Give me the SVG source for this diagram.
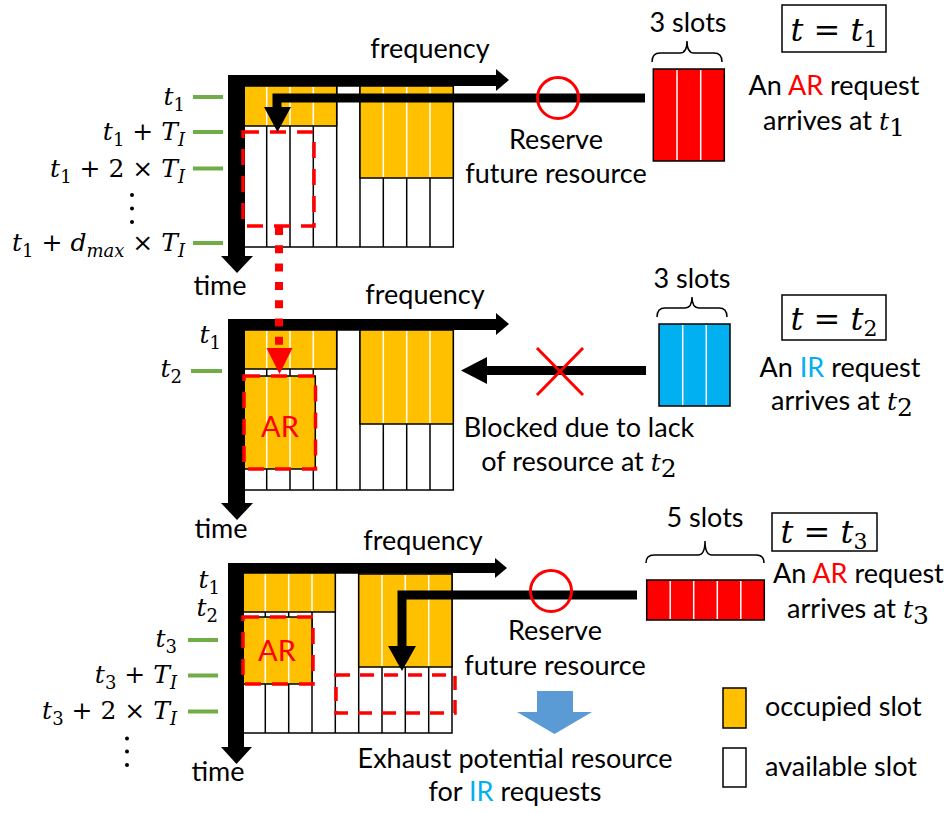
<svg xmlns="http://www.w3.org/2000/svg" width="944" height="813" viewBox="0 0 944 813">
<style>
.s{font-family:Lato,"Open Sans",sans-serif;font-size:27px;fill:#000}
.m{font-family:"DejaVu Serif",serif;font-size:25px;fill:#000}
.i{font-style:italic}
.sb{font-size:18px}
.art{font-family:Lato,"Open Sans",sans-serif;font-size:29px;fill:#FF0000}
.bg{fill:#fff;stroke:#000;stroke-width:1.5}
.or{fill:#FFC000;stroke:#000;stroke-width:1.5}
.bl{stroke:#000;stroke-width:1.5}
.wl{stroke:#fff;stroke-width:1.5}
.ax{fill:#000}
.tick{stroke:#70AD47;stroke-width:4}
.rd{fill:none;stroke:#FF0000;stroke-width:3.5;stroke-dasharray:16 11}
.rd2{fill:none;stroke:#FF0000;stroke-width:3.5;stroke-dasharray:14 10}
.req{fill:none;stroke:#000;stroke-width:9}
.red{fill:#FF0000}
.brace{fill:none;stroke:#000;stroke-width:1.5}
.box{fill:#fff;stroke:#000;stroke-width:1.5}
.tm{font-family:"DejaVu Serif",serif;font-size:32px;fill:#000}
</style>

<!-- ===== Panel 1 ===== -->
<g id="grid1">
  <rect class="bg" x="243.3" y="86" width="210" height="161"/>
  <g class="bl">
    <line x1="266.7" y1="86" x2="266.7" y2="247"/><line x1="290" y1="86" x2="290" y2="247"/>
    <line x1="313.3" y1="86" x2="313.3" y2="247"/><line x1="336.7" y1="86" x2="336.7" y2="247"/>
    <line x1="360" y1="86" x2="360" y2="247"/><line x1="383.3" y1="86" x2="383.3" y2="247"/>
    <line x1="406.7" y1="86" x2="406.7" y2="247"/><line x1="430" y1="86" x2="430" y2="247"/>
  </g>
  <rect class="or" x="243.3" y="86" width="93.4" height="40"/>
  <rect class="or" x="360" y="86" width="93.3" height="92"/>
  <g class="wl">
    <line x1="266.7" y1="87" x2="266.7" y2="125"/><line x1="290" y1="87" x2="290" y2="125"/><line x1="313.3" y1="87" x2="313.3" y2="125"/>
    <line x1="383.3" y1="87" x2="383.3" y2="177"/><line x1="406.7" y1="87" x2="406.7" y2="177"/><line x1="430" y1="87" x2="430" y2="177"/>
  </g>
</g>
<g id="axes1">
  <rect class="ax" x="228" y="75" width="17" height="182"/>
  <polygon class="ax" points="221,256 253,256 237,273"/>
  <rect class="ax" x="228" y="75" width="269" height="11"/>
  <polygon class="ax" points="496,69 496,91 509,80"/>
  <text class="s" x="430" y="58" text-anchor="middle">frequency</text>
  <text class="s" x="220" y="295" text-anchor="middle">time</text>
</g>
<g id="labels1">
  <g class="tick">
    <line x1="193" y1="97" x2="223" y2="97"/><line x1="193" y1="132" x2="223" y2="132"/>
    <line x1="193" y1="168.5" x2="223" y2="168.5"/><line x1="193" y1="243" x2="223" y2="243"/>
  </g>
  <text class="m" x="185" y="105" text-anchor="end"><tspan class="i">t</tspan><tspan class="sb" dy="6">1</tspan></text>
  <text class="m" x="185" y="140" text-anchor="end"><tspan class="i">t</tspan><tspan class="sb" dy="6">1</tspan><tspan dy="-6"> + </tspan><tspan class="i">T</tspan><tspan class="sb i" dy="6">I</tspan></text>
  <text class="m" x="185" y="177" text-anchor="end"><tspan class="i">t</tspan><tspan class="sb" dy="6">1</tspan><tspan dy="-6"> + 2 × </tspan><tspan class="i">T</tspan><tspan class="sb i" dy="6">I</tspan></text>
  <circle cx="132" cy="195" r="2"/><circle cx="132" cy="208.5" r="2"/><circle cx="132" cy="222" r="2"/>
  <text class="m" x="185" y="251" text-anchor="end"><tspan class="i">t</tspan><tspan class="sb" dy="6">1</tspan><tspan dy="-6"> + </tspan><tspan class="i">d</tspan><tspan class="sb i" dy="6">max</tspan><tspan dy="-6"> × </tspan><tspan class="i">T</tspan><tspan class="sb i" dy="6">I</tspan></text>
</g>
<g id="reserve1">
  <rect class="rd" x="243" y="132" width="71" height="94"/>
</g>
<g id="request1">
  <text class="s" x="688" y="32" text-anchor="middle">3 slots</text>
  <path class="brace" d="M652,62 Q652,53 660,53 L680,53 Q687,53 687,41 Q687,53 694,53 L714,53 Q722,53 722,62"/>
  <rect x="653.3" y="69" width="71" height="92" fill="#FF0000" stroke="#000" stroke-width="1.5"/>
  <line class="wl" x1="677" y1="70" x2="677" y2="160"/><line class="wl" x1="700.7" y1="70" x2="700.7" y2="160"/>
</g>
<g id="time1">
  <rect class="box" x="782" y="5" width="104" height="47"/>
  <text class="tm" x="834" y="41" text-anchor="middle"><tspan class="i">t</tspan> = <tspan class="i">t</tspan><tspan font-size="22" dy="6">1</tspan></text>
  <text class="s" x="834" y="95" text-anchor="middle">An <tspan fill="#FF0000">AR</tspan> request</text>
  <text class="s" x="834" y="130" text-anchor="middle">arrives at <tspan class="m i" font-size="29">t</tspan><tspan class="m" font-size="20" dy="6">1</tspan></text>
</g>
<g id="note1">
  <text class="s" x="556" y="149" text-anchor="middle">Reserve</text>
  <text class="s" x="556" y="183" text-anchor="middle">future resource</text>
</g>

<!-- ===== Panel 2 ===== -->
<g id="grid2">
  <rect class="bg" x="243.3" y="330" width="210" height="160"/>
  <g class="bl">
    <line x1="266.7" y1="330" x2="266.7" y2="490"/><line x1="290" y1="330" x2="290" y2="490"/>
    <line x1="313.3" y1="330" x2="313.3" y2="490"/><line x1="336.7" y1="330" x2="336.7" y2="490"/>
    <line x1="360" y1="330" x2="360" y2="490"/><line x1="383.3" y1="330" x2="383.3" y2="490"/>
    <line x1="406.7" y1="330" x2="406.7" y2="490"/><line x1="430" y1="330" x2="430" y2="490"/>
  </g>
  <rect class="or" x="243.3" y="330" width="93.4" height="39"/>
  <rect class="or" x="243.3" y="376" width="72" height="93"/>
  <rect class="or" x="360" y="330" width="93.3" height="94"/>
  <g class="wl">
    <line x1="266.7" y1="331" x2="266.7" y2="368"/><line x1="290" y1="331" x2="290" y2="368"/><line x1="313.3" y1="331" x2="313.3" y2="368"/>
    <line x1="266.7" y1="377" x2="266.7" y2="468"/><line x1="290" y1="377" x2="290" y2="468"/>
    <line x1="383.3" y1="331" x2="383.3" y2="423"/><line x1="406.7" y1="331" x2="406.7" y2="423"/><line x1="430" y1="331" x2="430" y2="423"/>
  </g>
</g>
<g id="axes2">
  <rect class="ax" x="228" y="319" width="17" height="185"/>
  <polygon class="ax" points="221,503 253,503 237,520"/>
  <rect class="ax" x="228" y="319" width="269" height="11"/>
  <polygon class="ax" points="496,313 496,335 509,324"/>
  <text class="s" x="425" y="304" text-anchor="middle">frequency</text>
  <text class="s" x="221" y="538" text-anchor="middle">time</text>
</g>
<g id="labels2">
  <line class="tick" x1="191" y1="371" x2="222" y2="371"/>
  <text class="m" x="221" y="343" text-anchor="end"><tspan class="i">t</tspan><tspan class="sb" dy="6">1</tspan></text>
  <text class="m" x="182" y="377" text-anchor="end"><tspan class="i">t</tspan><tspan class="sb" dy="6">2</tspan></text>
</g>
<g id="ar2">
  <rect class="rd" x="244" y="376" width="71.5" height="93"/>
  <text class="art" x="280" y="437" text-anchor="middle">AR</text>
</g>
<g id="request2">
  <text class="s" x="692" y="288" text-anchor="middle">3 slots</text>
  <path class="brace" d="M657,317 Q657,308 665,308 L685,308 Q692,308 692,297 Q692,308 699,308 L719,308 Q727,308 727,317"/>
  <rect x="659" y="324" width="71" height="82" fill="#00B0F0" stroke="#000" stroke-width="1.5"/>
  <line class="wl" x1="682.7" y1="325" x2="682.7" y2="405"/><line class="wl" x1="706.3" y1="325" x2="706.3" y2="405"/>
</g>
<g id="time2">
  <rect class="box" x="782" y="295" width="104" height="45"/>
  <text class="tm" x="834" y="330" text-anchor="middle"><tspan class="i">t</tspan> = <tspan class="i">t</tspan><tspan font-size="22" dy="6">2</tspan></text>
  <text class="s" x="840" y="377" text-anchor="middle">An <tspan fill="#00B0F0">IR</tspan> request</text>
  <text class="s" x="842" y="410" text-anchor="middle">arrives at <tspan class="m i" font-size="29">t</tspan><tspan class="m" font-size="20" dy="6">2</tspan></text>
</g>
<g id="note2">
  <text class="s" x="579" y="437" text-anchor="middle">Blocked due to lack</text>
  <text class="s" x="579" y="471" text-anchor="middle">of resource at <tspan class="m i" font-size="29">t</tspan><tspan class="m" font-size="20" dy="6">2</tspan></text>
</g>

<!-- ===== Panel 3 ===== -->
<g id="grid3">
  <rect class="bg" x="242" y="573" width="210" height="160"/>
  <g class="bl">
    <line x1="265.3" y1="573" x2="265.3" y2="733"/><line x1="288.7" y1="573" x2="288.7" y2="733"/>
    <line x1="312" y1="573" x2="312" y2="733"/><line x1="335.3" y1="573" x2="335.3" y2="733"/>
    <line x1="358.7" y1="573" x2="358.7" y2="733"/><line x1="382" y1="573" x2="382" y2="733"/>
    <line x1="405.3" y1="573" x2="405.3" y2="733"/><line x1="428.7" y1="573" x2="428.7" y2="733"/>
  </g>
  <rect class="or" x="242" y="573" width="93.3" height="39"/>
  <rect class="or" x="242" y="617" width="70" height="67"/>
  <rect class="or" x="358.7" y="574" width="93.3" height="93"/>
  <g class="wl">
    <line x1="265.3" y1="574" x2="265.3" y2="611"/><line x1="288.7" y1="574" x2="288.7" y2="611"/><line x1="312" y1="574" x2="312" y2="611"/>
    <line x1="265.3" y1="618" x2="265.3" y2="683"/><line x1="288.7" y1="618" x2="288.7" y2="683"/>
    <line x1="382" y1="575" x2="382" y2="666"/><line x1="405.3" y1="575" x2="405.3" y2="666"/><line x1="428.7" y1="575" x2="428.7" y2="666"/>
  </g>
</g>
<g id="axes3">
  <rect class="ax" x="228" y="563" width="16" height="185"/>
  <polygon class="ax" points="221,747 252,747 236.5,764"/>
  <rect class="ax" x="228" y="563" width="268" height="10"/>
  <polygon class="ax" points="495,558 495,578 507,568"/>
  <text class="s" x="423" y="550" text-anchor="middle">frequency</text>
  <text class="s" x="218" y="781" text-anchor="middle">time</text>
</g>
<g id="labels3">
  <g class="tick">
    <line x1="188" y1="640" x2="218" y2="640"/><line x1="188" y1="675.5" x2="218" y2="675.5"/><line x1="188" y1="711.5" x2="218" y2="711.5"/>
  </g>
  <text class="m" x="220" y="588" text-anchor="end"><tspan class="i">t</tspan><tspan class="sb" dy="6">1</tspan></text>
  <text class="m" x="218" y="616" text-anchor="end"><tspan class="i">t</tspan><tspan class="sb" dy="6">2</tspan></text>
  <text class="m" x="177" y="647" text-anchor="end"><tspan class="i">t</tspan><tspan class="sb" dy="6">3</tspan></text>
  <text class="m" x="177" y="683" text-anchor="end"><tspan class="i">t</tspan><tspan class="sb" dy="6">3</tspan><tspan dy="-6"> + </tspan><tspan class="i">T</tspan><tspan class="sb i" dy="6">I</tspan></text>
  <text class="m" x="177" y="719" text-anchor="end"><tspan class="i">t</tspan><tspan class="sb" dy="6">3</tspan><tspan dy="-6"> + 2 × </tspan><tspan class="i">T</tspan><tspan class="sb i" dy="6">I</tspan></text>
  <circle cx="127" cy="738.5" r="2"/><circle cx="127" cy="751.5" r="2"/><circle cx="127" cy="765" r="2"/>
</g>
<g id="ar3">
  <rect class="rd" x="243" y="617" width="70" height="67"/>
  <text class="art" x="277" y="661" text-anchor="middle">AR</text>
</g>
<g id="reserve3">
  <rect class="rd2" x="336" y="675" width="119" height="38"/>
</g>
<g id="request3">
  <text class="s" x="705" y="527" text-anchor="middle">5 slots</text>
  <path class="brace" d="M646,563 Q646,555 654,555 L698,555 Q705,555 705,541 Q705,555 712,555 L756,555 Q764,555 764,563"/>
  <rect x="646.7" y="580" width="117.6" height="40" fill="#FF0000" stroke="#000" stroke-width="1.5"/>
  <line class="wl" x1="670.2" y1="581" x2="670.2" y2="619"/><line class="wl" x1="693.7" y1="581" x2="693.7" y2="619"/>
  <line class="wl" x1="717.3" y1="581" x2="717.3" y2="619"/><line class="wl" x1="740.8" y1="581" x2="740.8" y2="619"/>
</g>
<g id="time3">
  <rect class="box" x="772" y="513" width="105" height="38"/>
  <text class="tm" x="824" y="543" text-anchor="middle"><tspan class="i">t</tspan> = <tspan class="i">t</tspan><tspan font-size="22" dy="6">3</tspan></text>
  <text class="s" x="773" y="583">An <tspan fill="#FF0000">AR</tspan> request</text>
  <text class="s" x="858" y="618" text-anchor="middle">arrives at <tspan class="m i" font-size="29">t</tspan><tspan class="m" font-size="20" dy="6">3</tspan></text>
</g>
<g id="note3">
  <text class="s" x="555" y="640" text-anchor="middle">Reserve</text>
  <text class="s" x="555" y="675" text-anchor="middle">future resource</text>
  <polygon points="537,691 573,691 573,712 592,712 554.5,734 517,712 537,712" fill="#5B9BD5"/>
  <text class="s" x="515" y="768" text-anchor="middle">Exhaust potential resource</text>
  <text class="s" x="515" y="801" text-anchor="middle">for <tspan fill="#00B0F0">IR</tspan> requests</text>
</g>
<g id="legend">
  <rect class="or" x="723" y="688" width="23" height="40"/>
  <text class="s" x="765" y="716">occupied slot</text>
  <rect class="box" x="723" y="748" width="23" height="39"/>
  <text class="s" x="765" y="776">available slot</text>
</g>

<!-- ===== Connectors ===== -->
<g id="connectors">
  <path class="req" d="M645,98 H277 V108"/>
  <polygon class="ax" points="264,107 291,107 277.5,132"/>
  <circle cx="558" cy="98" r="20.5" fill="none" stroke="#FF0000" stroke-width="3"/>
  <line x1="279" y1="227" x2="279" y2="345" stroke="#FF0000" stroke-width="8" stroke-dasharray="8 10.3"/>
  <polygon class="red" points="266.5,348 292.5,348 279.5,374"/>
  <line class="req" x1="646" y1="370.5" x2="485" y2="370.5"/>
  <polygon class="ax" points="487,357 487,384 461,370.5"/>
  <g stroke="#FF0000" stroke-width="3">
    <line x1="537" y1="348" x2="583" y2="395"/><line x1="583" y1="348" x2="537" y2="395"/>
  </g>
  <path class="req" d="M637,595 H402 V647"/>
  <polygon class="ax" points="388,646 416,646 402,671"/>
  <circle cx="551" cy="591" r="20.5" fill="none" stroke="#FF0000" stroke-width="3"/>
</g>
</svg>
